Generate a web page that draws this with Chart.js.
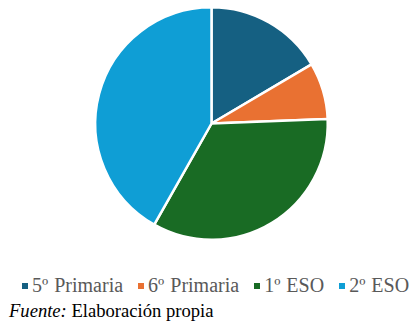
<!DOCTYPE html>
<html>
<head>
<meta charset="utf-8">
<script src="https://cdn.jsdelivr.net/npm/chart.js@4"></script>
<style>
  html, body { margin: 0; padding: 0; background: #fff; }
  body { width: 413px; height: 321px; position: relative; overflow: hidden; font-family: "Liberation Serif", serif; }
  #wrap { position: absolute; left: 0; top: 0; width: 413px; height: 250px; }
  #legend { position: absolute; left: 22px; top: 274px; display: flex; align-items: center; white-space: nowrap;
            font-size: 20px; word-spacing: 1px; color: #595959; line-height: 23px; }
  #legend .item { display: flex; align-items: center; margin-right: 15px; }
  #legend .box { width: 6px; height: 6px; margin-right: 4px; margin-top: 1px; }
  #note { position: absolute; left: 9px; top: 300px; font-size: 18.6px; color: #000; white-space: nowrap; }
</style>
</head>
<body>
<div id="wrap"><canvas id="pie"></canvas></div>
<div id="legend"></div>
<div id="note"><i>Fuente:</i> Elaboración propia</div>
<script>
// data (share of pupils per course, %)
const cursos = ['5º Primaria', '6º Primaria', '1º ESO', '2º ESO'];
const valores = [16.5, 7.9, 33.8, 41.8];
const colores = ['#156082', '#E97132', '#196B24', '#0F9ED5'];

const ctx = document.getElementById('pie').getContext('2d');
const chart = new Chart(ctx, {
  type: 'pie',
  data: {
    labels: cursos,
    datasets: [{ data: valores, backgroundColor: colores, borderColor: '#ffffff', borderWidth: 2.5 }]
  },
  options: {
    responsive: true,
    maintainAspectRatio: false,
    animation: false,
    layout: { padding: { top: 6, bottom: 9, left: 10, right: 0 } },
    plugins: { tooltip: { enabled: false }, legend: { display: false } }
  }
});

// legend under the pie, built from the chart's own labels
const leg = document.getElementById('legend');
chart.data.labels.forEach((lab, i) => {
  const it = document.createElement('span'); it.className = 'item';
  const b = document.createElement('span'); b.className = 'box'; b.style.background = colores[i];
  const t = document.createElement('span'); t.textContent = lab;
  it.appendChild(b); it.appendChild(t); leg.appendChild(it);
});
</script>
</body>
</html>
